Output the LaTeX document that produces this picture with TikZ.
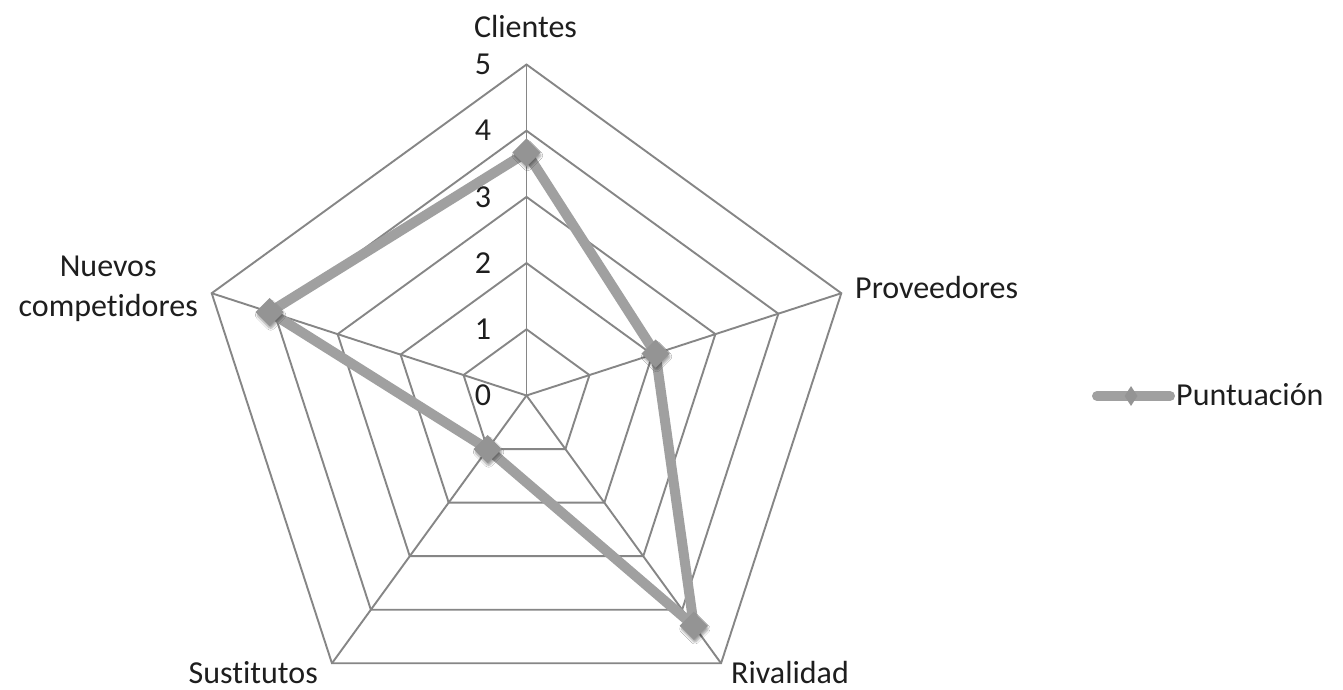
\documentclass[tikz,border=0pt]{standalone}
\usepackage{fontspec}
\setmainfont{Carlito}[Ligatures={NoCommon}]
\usetikzlibrary{shapes.geometric,shadows.blur}
\definecolor{gridc}{RGB}{134,134,134}
\definecolor{datac}{RGB}{160,160,160}
\definecolor{markc}{RGB}{148,148,148}
\definecolor{txtc}{RGB}{30,30,30}
\begin{document}
\begin{tikzpicture}[x=1pt,y=1pt,
  gridline/.style={draw=gridc, line width=1.9pt, line join=miter},
  dataline/.style={draw=datac, line width=10pt, line join=round},
  marker/.style={shape=rectangle, rotate=45, minimum width=20pt, minimum height=20pt, inner sep=0pt, fill=markc, draw=none,
     blur shadow={shadow xshift=1pt, shadow yshift=-3pt, shadow blur steps=6, shadow blur extra rounding=2pt, shadow opacity=35}},
  legmark/.style={shape=diamond, minimum width=13pt, minimum height=20pt, inner sep=0pt, fill=markc, draw=none},
  lbl/.style={font=\fontsize{32}{40}\selectfont, text=txtc, inner sep=0pt},
]
\useasboundingbox (0,-689) rectangle (1343,0);
\fill[white] (0,-689) rectangle (1343,0);
\begin{scope}[shift={(526.5,-395.5)}]
  \coordinate (O) at (0,0);
  \foreach \l in {1,...,5} {
    \draw[gridline] (90:\l*66.2) -- (18:\l*66.2) -- (-54:\l*66.2) -- (-126:\l*66.2) -- (162:\l*66.2) -- cycle;
  }
  \coordinate (a1) at (90:331);
  \coordinate (a2) at (18:331);
  \coordinate (a3) at (-54:331);
  \coordinate (a4) at (-126:331);
  \coordinate (a5) at (162:331);
  \foreach \a in {a1,a2,a3,a4,a5} { \draw[gridline] (O) -- (\a); }
  \foreach \l in {0,...,5} {
    \node[lbl] (t\l) at (-43.5,\l*66.2) {\l};
  }
  \coordinate (p1) at (90:3.67*66.2);
  \coordinate (p2) at (18:2.05*66.2);
  \coordinate (p3) at (-54:4.3*66.2);
  \coordinate (p4) at (-126:1.0*66.2);
  \coordinate (p5) at (162:4.08*66.2);
\end{scope}
\draw[dataline] (p1) -- (p2) -- (p3) -- (p4) -- (p5) -- cycle;
\foreach \p in {p1,p2,p3,p4,p5} { \node[marker] (m\p) at (\p) {}; }
\node[lbl, anchor=base] (lc) at (525.5,-37) {Clientes};
\node[lbl, anchor=base west] (lp) at (855,-298) {Proveedores};
\node[lbl, anchor=base west] (lr) at (731,-683) {Rivalidad};
\node[lbl, anchor=base east] (ls) at (318,-683) {Sustitutos};
\node[lbl, anchor=east, align=center] (ln) at (198,-289) {Nuevos\\competidores};
\coordinate (g1) at (1097,-396);
\coordinate (g2) at (1170,-396);
\draw[dataline, line cap=round] (g1) -- (g2);
\node[legmark] (gm) at (1131,-396) {};
\node[lbl, anchor=base west] (lg) at (1176,-405) {Puntuación};
\end{tikzpicture}
\end{document}
